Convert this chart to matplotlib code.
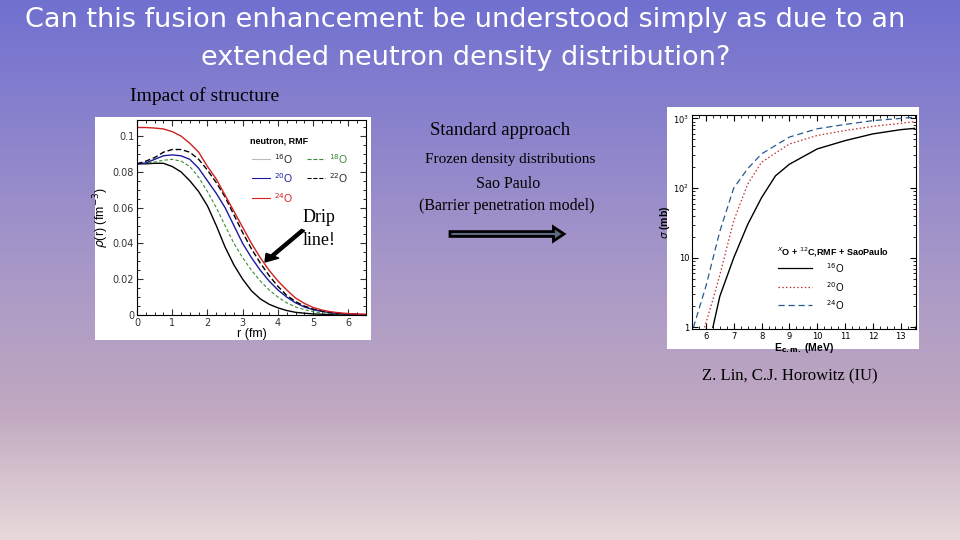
import numpy as np
import matplotlib
matplotlib.use('Agg')
import matplotlib.pyplot as plt
from matplotlib.colors import LinearSegmentedColormap
from matplotlib.patches import FancyArrow

# Плотности нейтронов (RMF), r в fm
r = [0, 0.25, 0.5, 0.75, 1.0, 1.25, 1.5, 1.75, 2.0, 2.25, 2.5, 2.75, 3.0, 3.25,
     3.5, 3.75, 4.0, 4.25, 4.5, 4.75, 5.0, 5.25, 5.5, 5.75, 6.0, 6.25, 6.5]
rho_16 = [.0845, .0845, .0848, .0848, .083, .080, .075, .069, .061, .050, .038, .028, .020, .0135,
          .009, .006, .004, .0025, .0015, .001, .0006, .0004, .0002, .0001, .0001, .00005, 0]
rho_18 = [.0845, .0848, .0855, .0865, .087, .086, .083, .077, .069, .060, .050, .040, .032, .025,
          .019, .014, .010, .0068, .0045, .003, .0019, .0012, .0008, .0005, .0003, .0002, .0001]
rho_20 = [.0845, .085, .087, .089, .0895, .089, .087, .082, .075, .068, .060, .050, .040, .032,
          .025, .019, .014, .010, .0068, .0045, .003, .002, .0013, .0008, .0005, .0003, .0002]
rho_22 = [.0845, .086, .088, .091, .0925, .0925, .091, .087, .081, .074, .066, .056, .046, .037,
          .029, .022, .016, .011, .0075, .005, .0033, .0022, .0014, .0009, .0006, .0004, .0002]
rho_24 = [.1048, .1048, .1045, .104, .1025, .100, .096, .091, .083, .076, .067, .058, .049, .040,
          .032, .025, .019, .014, .0095, .0065, .0042, .0028, .0018, .0012, .0008, .0005, .0004]

# Сечения слияния xO + 12C (мб)
e_16 = [6.25, 6.5, 7.0, 7.5, 8.0, 8.5, 9.0, 10.0, 11.0, 12.0, 13.0, 13.5]
sig_16 = [1.0, 2.8, 10, 30, 73, 150, 220, 365, 480, 600, 690, 720]
e_20 = [5.95, 6.25, 6.5, 7.0, 7.5, 8.0, 9.0, 10.0, 11.0, 12.0, 13.0, 13.5]
sig_20 = [1.0, 2.5, 5.7, 34, 114, 235, 430, 570, 670, 770, 850, 900]
e_24 = [5.55, 6.0, 6.5, 7.0, 7.5, 8.0, 9.0, 10.0, 11.0, 12.0, 13.0, 13.5]
sig_24 = [1.0, 3.9, 24, 100, 190, 310, 540, 710, 820, 930, 1000, 1040]

serif = 'Liberation Serif'
sans = ['Liberation Sans', 'DejaVu Sans']

fig = plt.figure(figsize=(9.6, 5.4), dpi=100)

# Фон-градиент
bg = fig.add_axes([0, 0, 1, 1])
cmap = LinearSegmentedColormap.from_list('bg', [(0.0, '#7070d0'), (0.5, '#a898c8'),
                                                (0.76, '#c0a8c0'), (1.0, '#e8dada')])
bg.imshow(np.linspace(0, 1, 256).reshape(-1, 1), aspect='auto', cmap=cmap,
          extent=[0, 1, 0, 1], origin='upper')
bg.set_xlim(0, 1)
bg.set_ylim(0, 1)
bg.axis('off')

fig.text(0.485, 0.963, 'Can this fusion enhancement be understood simply as due to an',
         ha='center', va='center', color='white', fontsize=19.5, family='DejaVu Sans')
fig.text(0.485, 0.893, 'extended neutron density distribution?',
         ha='center', va='center', color='white', fontsize=19.5, family='DejaVu Sans')
fig.text(0.135, 0.822, 'Impact of structure', ha='left', va='center', fontsize=14, family=serif)

# Левая панель
panel1 = fig.add_axes([95 / 960, 1 - 340 / 540, 276 / 960, 223 / 540])
panel1.set_facecolor('white')
panel1.set_xticks([])
panel1.set_yticks([])
for s in panel1.spines.values():
    s.set_visible(False)

ax1 = fig.add_axes([137 / 960, 1 - 315 / 540, 229 / 960, 195 / 540])
ax1.plot(r, rho_16, color='black', lw=1)
ax1.plot(r, rho_18, color='#3a8a3a', lw=0.8, ls=(0, (3, 2)))
ax1.plot(r, rho_20, color='#1a1aa0', lw=1)
ax1.plot(r, rho_22, color='black', lw=1, ls=(0, (4, 2)))
ax1.plot(r, rho_24, color='#d02020', lw=1)
ax1.set_xlim(0, 6.5)
ax1.set_ylim(0, 0.109)
ax1.set_xticks(range(7))
ax1.set_xticks(np.arange(0, 6.6, 0.25), minor=True)
ax1.set_yticks([0, 0.02, 0.04, 0.06, 0.08, 0.1])
ax1.set_yticklabels(['0', '0.02', '0.04', '0.06', '0.08', '0.1'])
ax1.set_yticks(np.arange(0, 0.109, 0.005), minor=True)
ax1.tick_params(direction='in', top=True, right=True, labelsize=7, length=4,
                colors='#333333', pad=2)
ax1.tick_params(which='minor', direction='in', top=True, right=True, length=2)
ax1.set_xlabel('r (fm)', fontsize=9, labelpad=0, family=sans)
ax1.set_ylabel(r'$\rho$(r) (fm$^{-3}$)', fontsize=9, labelpad=1, family=sans)

ax1.text(0.493, 0.892, 'neutron, RMF', transform=ax1.transAxes, fontsize=6.5,
         fontweight='bold', family=sans, va='center')
leg1 = [(0.502, 0.80, '#bbbbbb', '-', r'$^{16}$O', '#222222'),
        (0.742, 0.80, '#3a8a3a', '--', r'$^{18}$O', '#3a8a3a'),
        (0.502, 0.703, '#1a1aa0', '-', r'$^{20}$O', '#1a1aa0'),
        (0.742, 0.703, 'black', '--', r'$^{22}$O', '#222222'),
        (0.502, 0.60, '#d02020', '-', r'$^{24}$O', '#d02020')]
for xl, yy, lc, ls, lab, tc in leg1:
    ax1.plot([xl, xl + 0.08], [yy, yy], transform=ax1.transAxes, color=lc,
             ls=ls, lw=0.8)
    ax1.text(xl + 0.095, yy, lab, transform=ax1.transAxes, fontsize=7.5, color=tc,
             va='center', family=sans)

fig.text(0.315, 0.598, 'Drip', fontsize=13, family=serif, va='center')
fig.text(0.315, 0.555, 'line!', fontsize=13, family=serif, va='center')
fig.add_artist(FancyArrow(303 / 960, 1 - 230 / 540, -38 / 960, -32 / 540,
                          width=0.004, head_width=0.016, head_length=0.014,
                          color='black', transform=fig.transFigure,
                          length_includes_head=True))

# Средний текст
fig.text(0.521, 0.758, 'Standard approach', ha='center', va='center', fontsize=13.5, family=serif)
fig.text(0.531, 0.705, 'Frozen density distributions', ha='center', va='center',
         fontsize=11, family=serif)
fig.text(0.529, 0.659, 'Sao Paulo', ha='center', va='center', fontsize=11.5, family=serif)
fig.text(0.528, 0.618, '(Barrier penetration model)', ha='center', va='center',
         fontsize=11.5, family=serif)
fig.add_artist(FancyArrow(450 / 960, 1 - 234 / 540, 114 / 960, 0,
                          width=0.009, head_width=0.026, head_length=0.011,
                          facecolor='#5a6a80', edgecolor='black', lw=2,
                          transform=fig.transFigure, length_includes_head=True))

# Правая панель
panel2 = fig.add_axes([667 / 960, 1 - 349 / 540, 252 / 960, 242 / 540])
panel2.set_facecolor('white')
panel2.set_xticks([])
panel2.set_yticks([])
for s in panel2.spines.values():
    s.set_visible(False)

ax2 = fig.add_axes([692 / 960, 1 - 329 / 540, 224 / 960, 214 / 540])
ax2.plot(e_16, sig_16, color='black', lw=1)
ax2.plot(e_20, sig_20, color='#c03030', lw=0.9, ls=(0, (1.2, 1.8)))
ax2.plot(e_24, sig_24, color='#2a5a90', lw=0.9, ls=(0, (5, 3)))
ax2.set_yscale('log')
ax2.set_xlim(5.5, 13.55)
ax2.set_ylim(0.95, 1120)
ax2.set_xticks(range(6, 14))
ax2.set_xticks(np.arange(5.5, 13.6, 0.25), minor=True)
ax2.set_yticks([1, 10, 100, 1000])
ax2.set_yticklabels(['1', '10', r'10$^2$', r'10$^3$'])
ax2.tick_params(direction='in', top=True, right=True, labelsize=6, length=4, pad=2)
ax2.tick_params(which='minor', direction='in', top=True, right=True, length=2)
ax2.set_xlabel(r'E$_{\mathbf{c.m.}}$ (MeV)', fontsize=7.5, fontweight='bold',
               labelpad=0, family=sans)
ax2.set_ylabel(r'$\sigma$ (mb)', fontsize=7.5, fontweight='bold', labelpad=1, family=sans)

ax2.text(0.38, 0.36, r'$^{X}$O + $^{12}$C,RMF + SaoPaulo', transform=ax2.transAxes,
         fontsize=6.5, fontweight='bold', family=sans, va='center')
leg2 = [(0.285, 'black', '-', r'$^{16}$O'),
        (0.196, '#c03030', (0, (1.2, 1.8)), r'$^{20}$O'),
        (0.112, '#2a5a90', (0, (5, 3)), r'$^{24}$O')]
for yy, lc, ls, lab in leg2:
    ax2.plot([0.384, 0.536], [yy, yy], transform=ax2.transAxes, color=lc, ls=ls, lw=0.9)
    ax2.text(0.6, yy, lab, transform=ax2.transAxes, fontsize=7, va='center', family=sans)

fig.text(0.823, 0.303, 'Z. Lin, C.J. Horowitz (IU)', ha='center', va='center',
         fontsize=12, family=serif)

fig.savefig('out.png', dpi=100)
